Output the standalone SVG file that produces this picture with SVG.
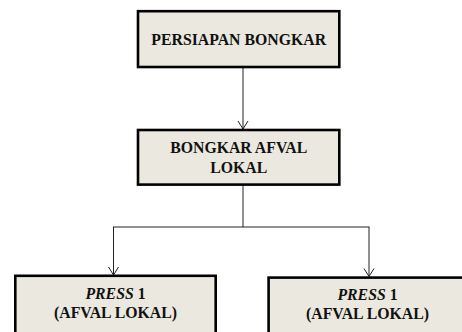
<svg xmlns="http://www.w3.org/2000/svg" width="462" height="332" viewBox="0 0 462 332">
<style>
.box{fill:#ebe9df;stroke:#000;stroke-width:2.6}
.t{font-family:'Liberation Serif','DejaVu Serif',serif;font-weight:700;font-size:15.8px;fill:#111;text-anchor:middle}
.i{font-style:italic}
.c{fill:none;stroke:#222;stroke-width:1}
</style>
<defs>
<marker id="arr" markerWidth="12" markerHeight="12" refX="10" refY="6" orient="auto" markerUnits="userSpaceOnUse">
<path d="M2,1 L10,6 L2,11" fill="none" stroke="#222" stroke-width="1"/>
</marker>
</defs>
<rect width="462" height="332" fill="#fff"/>
<g id="connectors">
<line class="c" x1="243" y1="68" x2="243" y2="129" marker-end="url(#arr)"/>
<line class="c" x1="243" y1="185" x2="243" y2="227"/>
<line class="c" x1="113" y1="227" x2="369.5" y2="227"/>
<line class="c" x1="113.5" y1="227" x2="113.5" y2="275" marker-end="url(#arr)"/>
<line class="c" x1="369" y1="227" x2="369" y2="276.5" marker-end="url(#arr)"/>
</g>
<g id="persiapan">
<rect class="box" x="138" y="11.2" width="201.3" height="55.8"/>
<text class="t" x="238.7" y="45">PERSIAPAN BONGKAR</text>
</g>
<g id="bongkar">
<rect class="box" x="138" y="130" width="201.3" height="54.6"/>
<text class="t" x="238.7" y="153.3">BONGKAR AFVAL</text>
<text class="t" x="238.7" y="172.7">LOKAL</text>
</g>
<g id="press1a">
<rect class="box" x="15.3" y="275.8" width="200.4" height="70"/>
<text class="t" x="115.5" y="299"><tspan class="i">PRESS</tspan> 1</text>
<text class="t" x="115.5" y="318">(AFVAL LOKAL)</text>
</g>
<g id="press1b">
<rect class="box" x="268.6" y="277.6" width="200" height="70"/>
<text class="t" x="367.5" y="300"><tspan class="i">PRESS</tspan> 1</text>
<text class="t" x="367.5" y="319">(AFVAL LOKAL)</text>
</g>
</svg>
